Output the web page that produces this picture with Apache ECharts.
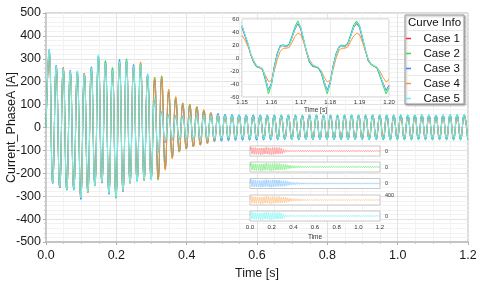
<!DOCTYPE html>
<html><head><meta charset="utf-8">
<script src="https://cdn.jsdelivr.net/npm/echarts/dist/echarts.min.js"></script>
<style>html,body{margin:0;padding:0;background:#fff}#c{width:480px;height:284px}</style>
</head><body><div id="c"></div>
<script>
// ---------- DATA ----------
const caseNames = ['Case 1', 'Case 2', 'Case 3', 'Case 4', 'Case 5'];
// Main plot: alternating peak/trough values (50 Hz, one extremum every 0.01 s starting at 0.009 s)
const mainStart = 0.009, mainStep = 0.01;
const case1 = [320,-235, 265,-263, 262,-262, 240,-265, 238,-300, 238,-275, 250,-245, 300,-243, 275,-280, 245,-295,
  280,-280, 285,-238, 260,-230, 270,-220, 225,-218, 120,-110, 70,-66, 56,-55, 52,-52, 51,-51,
  52,-51, 53,-50, 52,-51, 53,-51, 52,-50, 53,-51, 52,-51, 53,-50, 52,-51, 53,-51,
  52,-50, 53,-51, 52,-51, 54,-50, 52,-51, 53,-51, 52,-50, 53,-51, 52,-51, 53,-50,
  53,-51, 52,-51, 53,-50, 52,-51, 54,-51, 52,-50, 53,-51, 52,-51, 53,-50, 52,-51,
  53,-51, 52,-50, 53,-51, 52,-51, 53,-50, 52,-51, 53,-51, 53,-50, 53,-50, 53,-50];
const case2 = [325,-240, 262,-255, 250,-274, 242,-268, 240,-305, 228,-284, 255,-256, 310,-235, 292,-285, 262,-309,
  285,-270, 300,-240, 265,-232, 280,-232, 228,-225, 220,-230, 226,-180, 160,-130, 130,-108, 108,-95,
  103,-85, 92,-75, 75,-66, 62,-58, 56,-54, 54,-53, 54,-52, 55,-53, 54,-52, 55,-53,
  54,-53, 55,-52, 55,-53, 54,-53, 55,-52, 55,-54, 54,-53, 55,-53, 56,-52, 55,-53,
  54,-53, 55,-54, 56,-53, 55,-53, 54,-52, 55,-54, 56,-53, 55,-54, 56,-55, 55,-54,
  56,-54, 55,-55, 56,-54, 57,-54, 56,-55, 55,-54, 56,-55, 57,-55, 57,-55, 57,-55];
const case3 = [340,-245, 272,-262, 255,-272, 250,-274, 244,-314, 232,-280, 265,-250, 312,-238, 285,-292, 255,-300,
  297,-275, 292,-240, 275,-234, 278,-228, 230,-226, 210,-222, 215,-175, 155,-130, 125,-104, 100,-92,
  95,-83, 88,-76, 74,-69, 64,-62, 62,-60, 58,-58, 57,-57, 56,-56, 56,-55, 55,-55,
  55,-54, 54,-54, 54,-53, 53,-52, 54,-52, 53,-52, 53,-51, 54,-52, 53,-52, 53,-51,
  54,-52, 53,-51, 53,-52, 54,-51, 53,-52, 54,-51, 53,-51, 54,-52, 53,-51, 54,-51,
  53,-52, 54,-51, 53,-51, 54,-52, 54,-51, 53,-51, 54,-51, 54,-51, 54,-51, 54,-51];
const case4 = [330,-238, 260,-258, 255,-268, 238,-262, 236,-305, 230,-286, 250,-250, 305,-236, 280,-282, 250,-300,
  285,-272, 290,-246, 262,-230, 287,-230, 225,-222, 215,-226, 220,-187, 167,-137, 135,-106, 105,-93,
  100,-84, 90,-78, 78,-71, 66,-58, 55,-50, 48,-45, 45,-42, 42,-40, 40,-39, 39,-38,
  39,-38, 38,-37, 39,-38, 38,-37, 39,-37, 38,-38, 39,-37, 38,-37, 39,-38, 38,-37,
  39,-37, 38,-38, 39,-37, 38,-37, 38,-38, 39,-37, 38,-37, 39,-37, 38,-37, 38,-37,
  39,-37, 38,-37, 38,-37, 39,-37, 38,-37, 38,-37, 38,-37, 38,-37, 38,-37, 38,-37];
const case5 = [338,-242, 268,-260, 258,-270, 245,-272, 248,-308, 235,-280, 260,-252, 318,-240, 282,-288, 252,-302,
  288,-276, 292,-242, 268,-238, 275,-226, 237,-230, 130,-115, 72,-62, 56,-54, 53,-52, 53,-51,
  52,-51, 53,-51, 53,-50, 52,-51, 53,-51, 53,-50, 52,-51, 53,-51, 53,-51, 52,-50,
  53,-51, 53,-51, 52,-51, 53,-50, 53,-51, 52,-51, 53,-51, 54,-51, 53,-50, 53,-51,
  54,-51, 53,-52, 54,-51, 53,-51, 54,-52, 54,-51, 53,-51, 54,-52, 54,-51, 55,-52,
  54,-52, 55,-51, 54,-52, 55,-52, 55,-51, 54,-52, 55,-52, 55,-52, 55,-52, 55,-52];
const mainCases = [case1, case2, case3, case4, case5];

// Zoomed inset: 1.150 s .. 1.200 s, one value every 0.001 s
const insetStart = 1.15, insetStep = 0.001;
const inset1 = [47,34,21,5,-7,-13,-15,-18,-33,-49,-39,-13,7,18,19,17,20,31,44,53,44,26,8,-7,-12,-14,-15,-23,-37,-50,-37,-12,6,16,19,17,21,34,47,53,47,29,11,-5,-10,-13,-16,-28,-39,-50,-42];
const inset2 = [50,36,22,5,-7,-14,-15,-18,-35,-55,-42,-14,7,19,20,19,21,34,48,57,47,28,9,-7,-13,-14,-16,-24,-41,-55,-40,-13,7,18,20,19,23,37,51,57,50,31,12,-5,-11,-13,-16,-29,-43,-55,-46];
const inset3 = [48,35,22,6,-6,-13,-14,-17,-32,-50,-40,-14,6,18,20,18,20,32,45,54,45,27,9,-6,-12,-13,-15,-22,-38,-51,-38,-13,6,17,19,18,22,35,48,54,48,30,12,-4,-10,-12,-15,-27,-40,-51,-43];
const inset4 = [35,28,18,6,-4,-12,-15,-18,-27,-36,-35,-20,-2,10,15,15,16,24,33,38,36,24,10,-3,-10,-13,-15,-20,-30,-37,-34,-18,0,12,15,15,17,26,34,38,36,24,10,-2,-9,-12,-15,-21,-30,-37,-33];
const inset5 = [49,36,23,7,-5,-12,-14,-16,-31,-51,-41,-15,5,17,20,18,19,31,45,55,46,28,10,-5,-11,-13,-14,-21,-37,-52,-39,-14,5,17,19,18,21,34,48,55,49,31,13,-3,-10,-12,-14,-26,-40,-52,-44];
const insetCases = [inset1, inset2, inset3, inset4, inset5];

// ---------- STYLE ----------
const lineColors = ['#ff3030', '#33e033', '#3388ff', '#ff9430', '#66f4f4'];
const stripColors = ['#ff8a8a', '#7fee7f', '#8cc8ff', '#ffc48a', '#8af6f6'];
const FONT = 'Liberation Sans, Arial, sans-serif';
const stripTops = [146, 162, 178.5, 195, 211];

function mainData(vals) {
  const d = [[0, 0]];
  vals.forEach((v, i) => d.push([+(mainStart + i * mainStep).toFixed(3), v]));
  return d;
}
function insetData(vals) {
  return vals.map((v, i) => [+(insetStart + i * insetStep).toFixed(3), v]);
}

const grids = [
  {left: 46, top: 13, width: 422, height: 229, show: true, borderColor: '#b4b4b4', borderWidth: 1, backgroundColor: 'transparent', z: 0, containLabel: false, outerBoundsMode: 'none'},
  {left: 242, top: 19, width: 147, height: 78, show: true, borderColor: '#c8c8c8', borderWidth: 1, backgroundColor: '#fff', z: 3, containLabel: false, outerBoundsMode: 'none'}
];
stripTops.forEach(t => grids.push({left: 250, top: t, width: 130, height: 10, show: true, borderColor: '#c8c8c8', borderWidth: 1, backgroundColor: '#fff', z: 3, containLabel: false, outerBoundsMode: 'none'}));

const xAxes = [
  {gridIndex: 0, type: 'value', min: 0, max: 1.2, interval: 0.2, z: 0,
   name: 'Time [s]', nameLocation: 'middle', nameGap: 25, nameTextStyle: {fontSize: 12.5, color: '#1a1a1a', fontFamily: FONT},
   axisLine: {show: true, onZero: false, lineStyle: {color: '#c4c4c4', width: 2}},
   axisTick: {show: true, length: 3, lineStyle: {color: '#b0b0b0'}},
   minorTick: {show: true, splitNumber: 4, length: 2, lineStyle: {color: '#c8c8c8'}},
   axisLabel: {fontSize: 12.5, color: '#1a1a1a', margin: 7, fontFamily: FONT, showMinLabel: true, showMaxLabel: true, formatter: v => v.toFixed(1)},
   splitLine: {show: true, lineStyle: {color: '#e2e2e2', width: 1}},
   minorSplitLine: {show: true, lineStyle: {color: '#f2f2f2', width: 1}}},
  {gridIndex: 1, type: 'value', min: 1.15, max: 1.2, interval: 0.01, z: 3,
   name: 'Time [s]', nameLocation: 'middle', nameGap: 10, nameTextStyle: {fontSize: 6.5, color: '#333', fontFamily: FONT},
   axisLine: {show: false}, axisTick: {show: false},
   axisLabel: {fontSize: 6, color: '#333', margin: 2, fontFamily: FONT, showMinLabel: true, showMaxLabel: true, formatter: v => v.toFixed(2)},
   splitLine: {show: true, lineStyle: {color: '#ececec'}}}
];
const yAxes = [
  {gridIndex: 0, type: 'value', min: -500, max: 500, interval: 100, z: 0,
   axisLine: {show: true, onZero: false, lineStyle: {color: '#c4c4c4', width: 1.5}},
   axisTick: {show: true, length: 3, lineStyle: {color: '#b0b0b0'}},
   minorTick: {show: true, splitNumber: 5, length: 2, lineStyle: {color: '#c8c8c8'}},
   axisLabel: {fontSize: 12.5, color: '#1a1a1a', margin: 5, fontFamily: FONT, showMinLabel: true, showMaxLabel: true},
   splitLine: {show: true, lineStyle: {color: '#e2e2e2', width: 1}},
   minorSplitLine: {show: true, lineStyle: {color: '#f2f2f2', width: 1}}},
  {gridIndex: 1, type: 'value', min: -60, max: 60, interval: 20, z: 3,
   axisLine: {show: false}, axisTick: {show: false},
   axisLabel: {fontSize: 6, color: '#333', margin: 3, fontFamily: FONT, showMinLabel: true, showMaxLabel: true},
   splitLine: {show: true, lineStyle: {color: '#ececec'}}}
];
stripTops.forEach((t, i) => {
  const last = i === stripTops.length - 1;
  xAxes.push({gridIndex: 2 + i, type: 'value', min: 0, max: 1.2, interval: 0.2, z: 3,
    name: last ? 'Time' : '', nameLocation: 'middle', nameGap: 13, nameTextStyle: {fontSize: 6.5, color: '#333', fontFamily: FONT},
    axisLine: {show: false}, axisTick: {show: false}, splitLine: {show: false},
    axisLabel: {show: last, fontSize: 6, color: '#333', margin: 3, fontFamily: FONT, showMinLabel: true, showMaxLabel: true, formatter: v => v.toFixed(1)}});
  yAxes.push({gridIndex: 2 + i, type: 'value', min: -400, max: 400, interval: 400, position: 'right', z: 3,
    axisLine: {show: false}, axisTick: {show: false}, splitLine: {show: false},
    axisLabel: {fontSize: 5.5, color: '#333', margin: 5, fontFamily: FONT, showMinLabel: true, showMaxLabel: true,
      formatter: v => (v === 0 ? '0' : (v === 400 && i === 3 ? '400' : ''))}});
});

const series = [];
caseNames.forEach((n, i) => {
  series.push({name: n, type: 'line', xAxisIndex: 0, yAxisIndex: 0, data: mainData(mainCases[i]), showSymbol: false, symbol: 'none',
    smooth: 0.5, lineStyle: {color: lineColors[i], width: 1}, itemStyle: {color: lineColors[i]}, z: 2, animation: false, silent: true});
});
caseNames.forEach((n, i) => {
  series.push({name: n, type: 'line', xAxisIndex: 1, yAxisIndex: 1, data: insetData(insetCases[i]), showSymbol: false, symbol: 'none',
    lineStyle: {color: lineColors[i], width: 1}, itemStyle: {color: lineColors[i]}, z: 4, animation: false, silent: true});
});
caseNames.forEach((n, i) => {
  series.push({name: n, type: 'line', xAxisIndex: 2 + i, yAxisIndex: 2 + i, data: mainData(mainCases[i]), showSymbol: false, symbol: 'none',
    smooth: 0.5, lineStyle: {color: stripColors[i], width: 0.8}, itemStyle: {color: stripColors[i]}, z: 4, animation: false, silent: true});
});

const graphicEls = [
  {type: 'text', x: 12, y: 127.5, rotation: Math.PI / 2, style: {text: 'Current_PhaseA [A]', fontSize: 12.5, fontFamily: FONT, fill: '#1a1a1a', align: 'center', verticalAlign: 'middle'}, z: 5, silent: true},
  {type: 'rect', shape: {x: 405, y: 15, width: 59, height: 89}, style: {fill: '#fff', stroke: '#9a9a9a', lineWidth: 1, shadowBlur: 2, shadowColor: 'rgba(0,0,0,0.35)', shadowOffsetX: 1, shadowOffsetY: 1}, z: 9, silent: true},
  {type: 'text', x: 434.5, y: 23, style: {text: 'Curve Info', fontSize: 11.5, fontFamily: FONT, fill: '#111', align: 'center', verticalAlign: 'middle'}, z: 11, silent: true}
];
[30.5, 45.5, 60.5, 75.5, 90.5].forEach(y => graphicEls.push({type: 'line', shape: {x1: 406, y1: y, x2: 463, y2: y}, style: {stroke: '#e8e8e8', lineWidth: 1}, z: 10, silent: true}));

const chart = echarts.init(document.getElementById('c'), null, {renderer: 'canvas', width: 480, height: 284});
chart.setOption({
  animation: false,
  backgroundColor: '#fff',
  textStyle: {fontFamily: FONT},
  grid: grids, xAxis: xAxes, yAxis: yAxes, series: series,
  legend: {show: true, orient: 'vertical', left: 406, top: 31, padding: 0, itemGap: 0, itemWidth: 5, itemHeight: 1.5, icon: 'rect', z: 12,
    data: caseNames, selectedMode: false,
    formatter: n => '{a|' + n + '}',
    textStyle: {fontFamily: FONT, color: '#111', fontSize: 11.5, rich: {a: {width: 44, align: 'right', fontSize: 11.5, lineHeight: 15, height: 15, fontFamily: FONT, color: '#111'}}}},
  graphic: {elements: graphicEls}
});
</script></body></html>
